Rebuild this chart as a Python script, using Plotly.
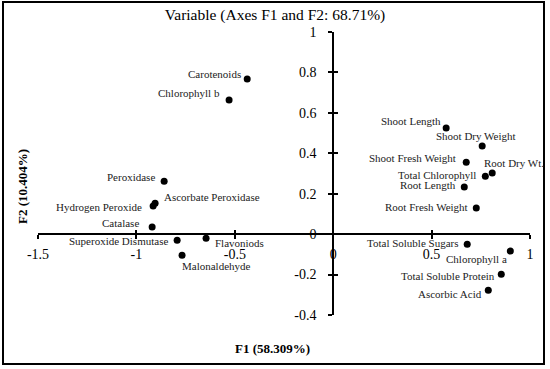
import plotly.graph_objects as go

# ---- data ----
variables = ["Carotenoids", "Chlorophyll b", "Peroxidase", "Ascorbate Peroxidase",
             "Hydrogen Peroxide", "Catalase", "Superoxide Dismutase", "Flavoniods",
             "Malonaldehyde", "Shoot Length", "Shoot Dry Weight", "Shoot Fresh Weight",
             "Root Dry Wt.", "Total Chlorophyll", "Root Length", "Root Fresh Weight",
             "Total Soluble Sugars", "Chlorophyll a", "Total Soluble Protein", "Ascorbic Acid"]
f1 = [-0.437, -0.529, -0.859, -0.905, -0.915, -0.920, -0.793, -0.646,
      -0.768, 0.574, 0.757, 0.676, 0.808, 0.773, 0.666, 0.727,
      0.681, 0.900, 0.854, 0.788]
f2 = [0.767, 0.663, 0.262, 0.153, 0.139, 0.035, -0.030, -0.020,
      -0.104, 0.525, 0.436, 0.356, 0.302, 0.287, 0.233, 0.129,
      -0.050, -0.084, -0.198, -0.277]
x_ticks = [-1.5, -1, -0.5, 0, 0.5, 1]
x_tick_labels = ["-1.5", "-1", "-0.5", "0", "0.5", "1"]
y_ticks = [-0.4, -0.2, 0, 0.2, 0.4, 0.6, 0.8, 1]
y_tick_labels = ["-0.4", "-0.2", "0", "0.2", "0.4", "0.6", "0.8", "1"]

# ---- label placement (style, pixel offsets) ----
label_style = {
    "Carotenoids": ("right", -4, 5),
    "Chlorophyll b": ("right", -7, 7),
    "Peroxidase": ("right", -7, 4),
    "Ascorbate Peroxidase": ("left", 7, 6),
    "Hydrogen Peroxide": ("right", -9, -1),
    "Catalase": ("right", -11, 4),
    "Superoxide Dismutase": ("right", -7, -1),
    "Flavoniods": ("left", 7, -5),
    "Malonaldehyde": ("left", -2, -11),
    "Shoot Length": ("right", -3, 7),
    "Shoot Dry Weight": ("left", -48, 10),
    "Shoot Fresh Weight": ("right", -8, 4),
    "Root Dry Wt.": ("left", -10, 10),
    "Total Chlorophyll": ("right", -7, 1),
    "Root Length": ("right", -6, 2),
    "Root Fresh Weight": ("right", -6, 1),
    "Total Soluble Sugars": ("right", -6, 1),
    "Chlorophyll a": ("right", -1, -8),
    "Total Soluble Protein": ("right", -4, -2),
    "Ascorbic Acid": ("right", -4, -4),
}

FONT = "Liberation Serif"
xr = [-1.5, 1]
yr = [-0.4, 1]
xpos = (0 - yr[0]) / (yr[1] - yr[0])
ypos = (0 - xr[0]) / (xr[1] - xr[0])

fig = go.Figure()
fig.add_trace(go.Scatter(x=f1, y=f2, mode="markers",
                         marker=dict(color="black", size=7),
                         hovertext=variables, showlegend=False))
# dummy trace for the overlay axes (inside half of cross ticks)
fig.add_trace(go.Scatter(x=[None], y=[None], xaxis="x2", yaxis="y2",
                         showlegend=False, hoverinfo="skip"))

for name, x, y in zip(variables, f1, f2):
    anchor, dx, dy = label_style[name]
    fig.add_annotation(x=x, y=y, text=name, showarrow=False,
                       xanchor=anchor, yanchor="middle", xshift=dx, yshift=dy,
                       font=dict(family=FONT, size=11, color="#222"))

axis_common = dict(showgrid=False, zeroline=False, showline=True,
                   linecolor="black", linewidth=2, ticklen=4, tickwidth=1.5,
                   tickcolor="black", tickmode="array",
                   tickfont=dict(family=FONT, size=14, color="black"))

fig.update_layout(
    width=550, height=369,
    margin=dict(l=38, r=20, t=32, b=54),
    paper_bgcolor="white", plot_bgcolor="white",
    font=dict(family=FONT, color="black"),
    title=dict(text="Variable (Axes F1 and F2: 68.71%)", x=0.5, xanchor="center",
               y=0.96, yanchor="middle",
               font=dict(family=FONT, size=15.5, color="black")),
    xaxis=dict(range=xr, domain=[0, 1], anchor="free", position=xpos,
               tickvals=x_ticks, ticktext=x_tick_labels, ticks="outside",
               ticklabelstandoff=3, **axis_common),
    yaxis=dict(range=yr, domain=[0, 1], anchor="free", position=ypos,
               tickvals=y_ticks, ticktext=y_tick_labels, ticks="outside",
               ticklabelstandoff=9, **axis_common),
    xaxis2=dict(range=xr, overlaying="x", anchor="free", position=xpos,
                showgrid=False, zeroline=False, showline=False,
                ticks="inside", ticklen=4, tickwidth=1.5, tickcolor="black",
                tickmode="array", tickvals=x_ticks, showticklabels=False),
    yaxis2=dict(range=yr, overlaying="y", anchor="free", position=ypos,
                showgrid=False, zeroline=False, showline=False,
                ticks="inside", ticklen=4, tickwidth=1.5, tickcolor="black",
                tickmode="array", tickvals=y_ticks, showticklabels=False),
    showlegend=False,
)

fig.add_annotation(xref="paper", yref="paper", x=(272 - 38) / 492, y=(315 - 348) / 283,
                   text="<b>F1 (58.309%)</b>", showarrow=False,
                   xanchor="center", yanchor="middle",
                   font=dict(family=FONT, size=13, color="black"))
fig.add_annotation(xref="paper", yref="paper", x=(22 - 38) / 492, y=(315 - 187) / 283,
                   text="<b>F2 (10.404%)</b>", showarrow=False, textangle=-90,
                   xanchor="center", yanchor="middle",
                   font=dict(family=FONT, size=13, color="black"))

# outer frame
fig.add_shape(type="rect", xref="paper", yref="paper",
              x0=(3 - 38) / 492, x1=(544 - 38) / 492,
              y0=(315 - 364) / 283, y1=(315 - 2) / 283,
              line=dict(color="black", width=2), fillcolor="rgba(0,0,0,0)")

fig.write_html("out.html", config={"displayModeBar": False},
               post_script="document.body.style.margin='0';")
